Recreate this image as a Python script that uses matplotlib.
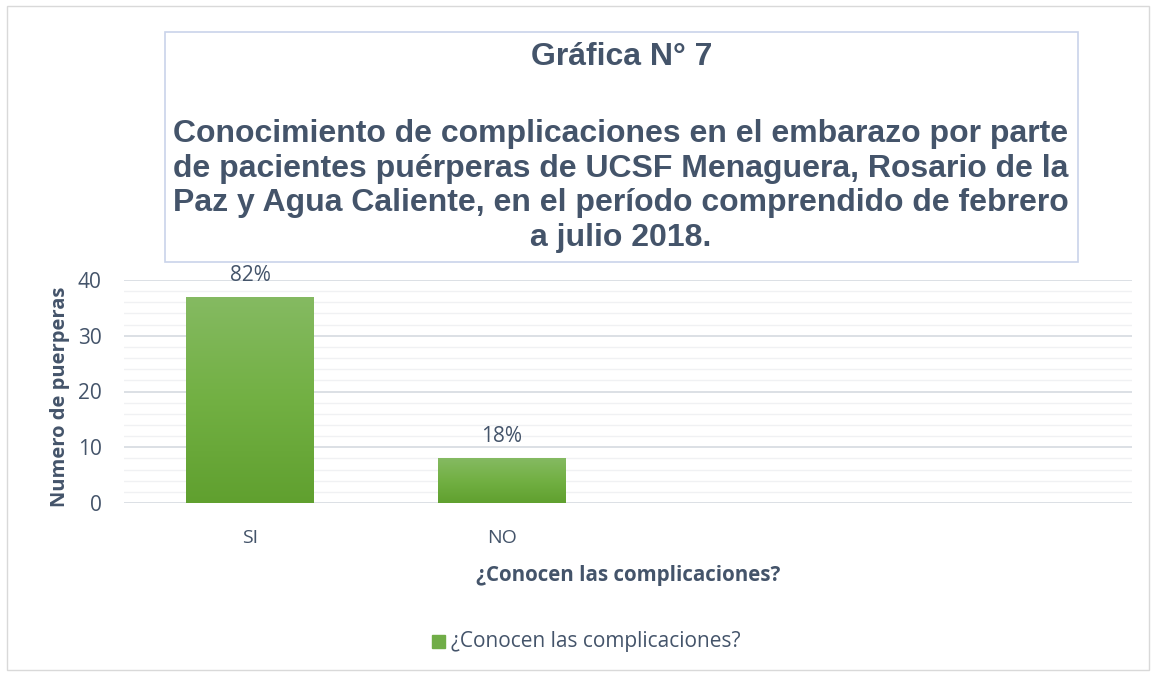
import numpy as np
import matplotlib.pyplot as plt
from matplotlib.colors import LinearSegmentedColormap
from matplotlib.patches import Rectangle

categorias = ['SI', 'NO', '', '']
valores = [37, 8]
etiquetas = ['82%', '18%']
titulo_num = 'Gráfica N° 7'
titulo = ('Conocimiento de complicaciones en el embarazo por parte\n'
          'de pacientes puérperas de UCSF Menaguera, Rosario de la\n'
          'Paz y Agua Caliente, en el período comprendido de febrero\n'
          'a julio 2018.')

texto = '#44546A'
fig = plt.figure(figsize=(11.54, 6.76), dpi=100)
ax = fig.add_axes([124 / 1154, 1 - 503 / 676, 1008 / 1154, (503 - 280) / 676])

# outer border
fig.patches.append(Rectangle((7 / 1154, 6 / 676), 1142 / 1154, 664 / 676, transform=fig.transFigure,
                             fill=False, edgecolor='#D9D9D9', linewidth=1))

x = np.arange(len(categorias))
bars = ax.bar(x[:len(valores)], valores, width=0.505, color='none', zorder=3)
cmap = LinearSegmentedColormap.from_list('verde', ['#60A02F', '#72B043', '#85BA62'])
grad = np.linspace(0, 1, 256).reshape(-1, 1)
for b, lab in zip(bars, etiquetas):
    x0, w, h = b.get_x(), b.get_width(), b.get_height()
    im = ax.imshow(grad, cmap=cmap, origin='lower', aspect='auto',
                   extent=[x0, x0 + w, 0, h], zorder=3)
    im.set_clip_path(b)
    ax.text(x0 + w / 2, h + 2.0, lab, ha='center', va='bottom', fontsize=15,
            family='Open Sans', color=texto)

ax.set_xlim(-0.5, len(categorias) - 0.5)
ax.set_ylim(0, 40)
ax.set_yticks(np.arange(0, 41, 10))
ax.set_yticks(np.arange(0, 41, 2), minor=True)
ax.set_xticks(x)
ax.set_xticklabels(categorias)
ax.grid(axis='y', which='major', color='#D9DDE3', linewidth=1.3, zorder=0)
ax.grid(axis='y', which='minor', color='#F0F1F3', linewidth=1.0, zorder=0)
ax.tick_params(axis='both', which='both', length=0)
ax.tick_params(axis='y', pad=16, labelsize=15, labelcolor=texto)
ax.tick_params(axis='x', pad=19, labelsize=14, labelcolor=texto)
for lbl in ax.get_xticklabels() + ax.get_yticklabels():
    lbl.set_family('Open Sans')
for s in ax.spines.values():
    s.set_visible(False)

fig.text(60 / 1154, 1 - 397 / 676, 'Numero de puerperas', rotation=90, ha='center', va='center',
         fontsize=14.5, fontweight='bold', color=texto, family='Open Sans')
fig.text(628 / 1154, 1 - 575 / 676, '¿Conocen las complicaciones?', ha='center', va='center',
         fontsize=14.8, fontweight='bold', color=texto, family='Open Sans')

# title box
fig.patches.append(Rectangle((165 / 1154, 1 - 262 / 676), 913 / 1154, 230 / 676,
                             transform=fig.transFigure, fill=False, edgecolor='#C9D3EA', linewidth=1.2))
fig.text(622 / 1154, 1 - 57 / 676, titulo_num, ha='center', va='center', fontsize=23,
         fontweight='bold', color=texto, family='Liberation Sans')
fig.text(621 / 1154, 1 - 186 / 676, titulo, ha='center', va='center', fontsize=23,
         fontweight='bold', color=texto, family='Liberation Sans', linespacing=1.19)

# legend
fig.patches.append(Rectangle((432 / 1154, 1 - 648 / 676), 13 / 1154, 13 / 676,
                             transform=fig.transFigure, color='#70AD47'))
fig.text(451 / 1154, 1 - 641 / 676, '¿Conocen las complicaciones?', ha='left', va='center',
         fontsize=15, color=texto, family='Open Sans')

fig.savefig('out.png', dpi=100)
